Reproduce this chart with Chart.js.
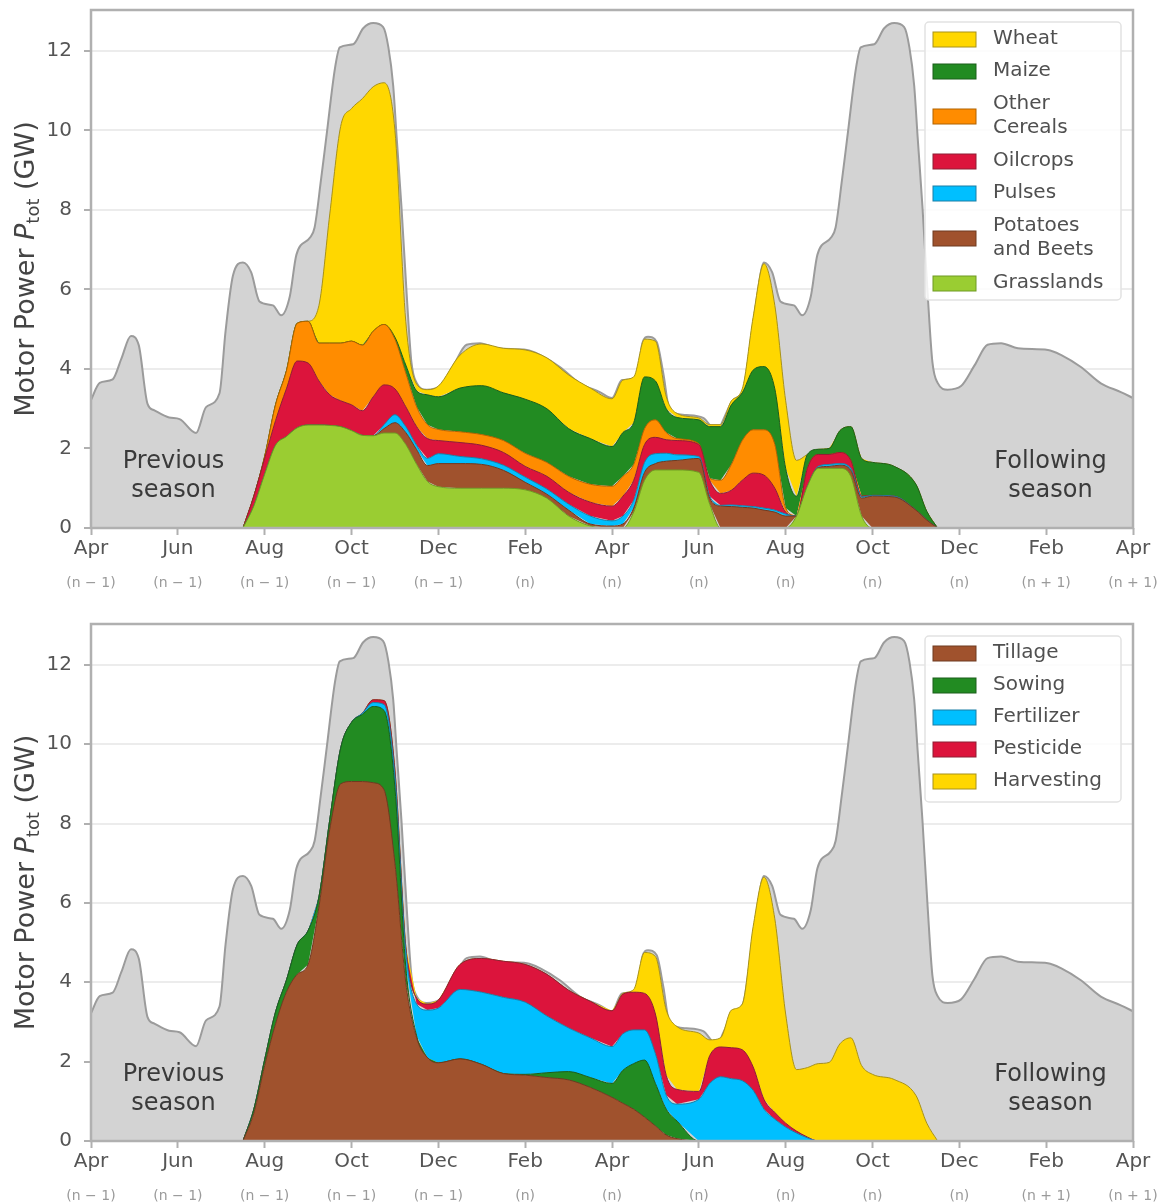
<!DOCTYPE html>
<html>
<head>
<meta charset="utf-8">
<script src="https://cdn.jsdelivr.net/npm/chart.js@4.4.1/dist/chart.umd.min.js"></script>
<style>
  html, body { margin: 0; padding: 0; background: #fff; }
  canvas { display: block; }
</style>
</head>
<body>
<canvas id="cropChart" width="1164" height="601"></canvas>
<canvas id="opChart" width="1164" height="601"></canvas>
<script>
// x axis: months counted from Apr (n-1)
const monthTicks = ['Apr', 'Jun', 'Aug', 'Oct', 'Dec', 'Feb', 'Apr', 'Jun', 'Aug', 'Oct', 'Dec', 'Feb', 'Apr'];
const yearTicks = ['(n \u2212 1)', '(n \u2212 1)', '(n \u2212 1)', '(n \u2212 1)', '(n \u2212 1)',
    '(n)', '(n)', '(n)', '(n)', '(n)', '(n)', '(n + 1)', '(n + 1)'];

// total motor power of all seasons (grey background)
const grayMonths = [0, 0.2, 0.5, 0.7, 0.92, 1.1, 1.3, 1.46, 1.8, 2.04, 2.42, 2.65, 2.96, 3.1, 3.27, 3.5, 3.69, 3.88,
    4.19, 4.38, 4.58, 4.73, 5.04, 5.15, 5.3, 5.42, 5.62, 5.73, 6.04, 6.27, 6.5, 6.73, 6.85, 6.96, 7.04, 7.15, 7.27,
    7.38, 7.5, 7.73, 8.04, 8.35, 8.65, 8.96, 9.35, 10.04, 10.35, 10.8, 11.26, 11.72,
    12.0, 12.23, 12.57, 12.7, 12.83, 13.03, 13.18, 13.33, 13.72, 14.1, 14.42, 14.56, 14.79, 15.02, 15.22, 15.33, 15.5,
    15.69, 15.88, 16.19, 16.38, 16.58, 16.73, 17.04, 17.15, 17.3, 17.42, 17.62, 17.73, 18.04, 18.27, 18.5, 18.73,
    18.85, 18.96, 19.04, 19.15, 19.27, 19.38, 19.5, 19.73, 20.04, 20.35, 20.65, 20.96, 21.35, 22.04, 22.35, 22.8,
    23.26, 23.72, 24];
const grayPower = [3.22, 3.65, 3.74, 4.26, 4.83, 4.6, 3.13, 2.96, 2.78, 2.74, 2.39, 3.04, 3.39, 4.96, 6.35, 6.68, 6.43, 5.7,
    5.6, 5.35, 5.83, 6.87, 7.3, 7.56, 8.78, 9.83, 11.57, 12.09, 12.17, 12.57, 12.7, 12.6, 12.09, 11.13, 9.83, 8.09, 5.9,
    4.17, 3.65, 3.48, 3.57, 4.09, 4.61, 4.65, 4.52, 4.48, 4.35, 4.05, 3.64, 3.42,
    3.27, 3.72, 3.77, 4.65, 4.81, 4.68, 3.9, 2.97, 2.84, 2.77, 2.42, 2.72, 3.22, 3.47, 4.9, 5.74, 6.68,
    6.43, 5.7, 5.6, 5.35, 5.83, 6.87, 7.3, 7.56, 8.78, 9.83, 11.57, 12.09, 12.17, 12.57, 12.7, 12.6,
    12.09, 11.13, 9.83, 8.09, 5.9, 4.17, 3.65, 3.48, 3.57, 4.09, 4.61, 4.65, 4.52, 4.48, 4.35, 4.05,
    3.64, 3.42, 3.27];

// current season sample months
const seasonMonths = [3.5, 3.75, 4, 4.25, 4.5, 4.75, 5, 5.25, 5.5, 5.75, 6, 6.25, 6.5, 6.75, 7, 7.25, 7.5, 7.75, 8,
    8.5, 9, 9.5, 10, 10.5, 11, 11.5, 12, 12.25, 12.5, 12.75, 13, 13.25, 13.5, 14, 14.25, 14.5, 14.75, 15, 15.25,
    15.5, 15.75, 16, 16.25, 16.5, 16.75, 17, 17.25, 17.5, 17.75, 18, 18.5, 19, 19.25, 19.5];

// crops (GW), stacked bottom to top
const grasslands = [0, .55, 1.35, 2.08, 2.3, 2.52, 2.59, 2.59, 2.58, 2.55, 2.45, 2.33, 2.32, 2.39, 2.39, 2.1, 1.6, 1.17, 1.04,
    1.0, 1.0, 1.0, .96, .75, .3, .05, 0, 0, .4, 1.2, 1.46, 1.46, 1.46, 1.4, .6, 0, 0, 0, 0,
    0, 0, 0, .3, 1.05, 1.5, 1.5, 1.5, 1.3, .3, 0, 0, 0, 0, 0];
const potatoes = [0, 0, 0, 0, 0, 0, 0, 0, 0, 0, 0, 0, 0, .11, .26, .3, .37, .4, .58,
    .62, .6, .45, .19, .1, .15, .05, .05, .1, .1, .2, .16, .22, .24, .35, .15, .55, .54, .52, .5,
    .45, .4, .3, 0, 0, .02, .05, .08, .15, .45, .8, .78, .45, .2, 0];
const pulses = [0, 0, 0, 0, 0, 0, 0, 0, 0, 0, 0, 0, 0, .1, .2, .15, .11, .18, .25,
    .18, .14, .13, .13, .13, .15, .2, .13, .2, .2, .25, .25, .2, .14, .05, .05, .02, .04, .04, .04,
    .05, .05, .05, 0, 0, .03, .05, .04, .05, .03, .02, .02, 0, 0, 0];
const oilcrops = [0, .25, .4, .62, 1.2, 1.68, 1.56, 1.11, .77, .65, .65, .62, .98, 1.0, .65, .5, .47, .5, .33,
    .35, .34, .32, .27, .32, .3, .35, .37, .5, .5, .45, .41, .34, .36, .3, .4, .3, .37, .64, .84,
    .83, .55, .05, 0, .45, .3, .25, .28, .2, .02, 0, 0, 0, 0, 0];
const otherCereals = [0, 0, .05, .4, .45, .95, 1.05, .95, 1.3, 1.45, 1.6, 1.65, 1.65, 1.52, 1.25, .85, .5, .35, .28,
    .27, .27, .3, .33, .35, .4, .45, .5, .5, .4, .4, .44, .18, .05, .02, .05, .33, .65, 1.0, 1.09,
    1.14, 1.1, .1, 0, 0, 0, 0, 0, 0, 0, 0, 0, 0, 0, 0];
const maize = [0, 0, 0, 0, 0, 0, 0, 0, 0, 0, 0, 0, 0, 0, .05, .2, .4, .75, .82,
    1.1, 1.23, 1.2, 1.36, 1.35, 1.2, 1.15, 1.0, 1.1, 1.05, 1.3, .98, .6, .53, .6, 1.3, 1.35, 1.5, 1.2, 1.5,
    1.59, 1.4, 1.0, .5, .35, .13, .15, .55, .85, .95, .83, .75, .65, .22, 0];
const wheat = [0, 0, 0, 0, 0, 0, 0, .95, 3.25, 5.45, 5.85, 6.2, 6.15, 6.08, 5.2, 1.1, .17, .13, .27,
    .83, 1.05, 1.12, 1.24, 1.28, 1.35, 1.27, 1.2, 1.32, 1.15, .95, 1.0, .3, .1, .05, .05, .05, .1, .1, 1.33,
    2.59, 2.1, 1.7, .9, 0, 0, 0, 0, 0, 0, 0, 0, 0, 0, 0];

// operations (GW), stacked bottom to top
const tillage = [0, .7, 1.9, 2.95, 3.75, 4.2, 4.45, 5.9, 7.86, 9.0, 9.06, 9.06, 9.03, 8.85, 7.0, 4.0, 2.6, 2.1, 1.97,
    2.07, 1.93, 1.7, 1.66, 1.6, 1.54, 1.35, 1.1, .95, .8, .6, .38, .15, .06, 0, 0, 0, 0, 0, 0,
    0, 0, 0, 0, 0, 0, 0, 0, 0, 0, 0, 0, 0, 0, 0];
const sowing = [0, .1, .15, .3, .3, .75, .85, .25, .24, .9, 1.49, 1.69, 1.92, 2.0, 1.9, .4, .05, 0, 0,
    0, 0, 0, .02, .12, .21, .25, .35, .83, 1.15, 1.44, 1.07, .65, .44, 0, 0, 0, 0, 0, 0,
    0, 0, 0, 0, 0, 0, 0, 0, 0, 0, 0, 0, 0, 0, 0];
const fertilizer = [0, 0, 0, 0, 0, 0, 0, 0, 0, 0, 0, .03, .1, .15, .3, .4, .8, 1.2, 1.38,
    1.75, 1.82, 1.92, 1.82, 1.43, 1.1, 1.0, .93, .92, .85, .76, .75, .35, .43, 1.05, 1.45, 1.62, 1.57, 1.52, 1.28,
    .8, .55, .35, .2, .08, 0, 0, 0, 0, 0, 0, 0, 0, 0, 0];
const pesticide = [0, 0, 0, 0, 0, 0, 0, 0, 0, 0, 0, 0, .07, .1, .15, .1, .15, .15, .2,
    .63, .85, .91, .95, 1.05, .95, .92, .9, 1.0, .95, .92, 1.0, .5, .37, .2, .7, .75, .78, .78, .59,
    .25, .17, .1, .05, .02, 0, 0, 0, 0, 0, 0, 0, 0, 0, 0];
const harvesting = [0, 0, 0, 0, 0, 0, 0, 0, 0, 0, 0, 0, 0, 0, 0, 0, 0, 0, 0,
    0, 0, 0, 0, 0, 0, 0, 0, .02, .07, 1.03, 1.45, 1.65, 1.58, 1.47, .4, .23, .95, 1.15, 3.53,
    5.6, 4.88, 2.75, 1.55, 1.75, 1.95, 1.98, 2.45, 2.6, 1.9, 1.68, 1.55, 1.15, .45, 0];

const FONT = '"DejaVu Sans", sans-serif';

function seasonSet(label, values, fill, edge) {
    return {
        label: label,
        data: seasonMonths.map(function(m, i) { return {x: m, y: values[i]}; }),
        backgroundColor: fill,
        borderColor: edge,
        borderWidth: 1,
        fill: 'stack',
        stack: 'season',
        pointRadius: 0,
        cubicInterpolationMode: 'monotone'
    };
}

function graySet() {
    return {
        label: 'all seasons',
        isBackground: true,
        data: grayMonths.map(function(m, i) { return {x: m, y: grayPower[i]}; }),
        backgroundColor: '#d3d3d3',
        borderColor: '#9b9b9b',
        borderWidth: 2,
        fill: 'origin',
        stack: 'bg',
        pointRadius: 0,
        cubicInterpolationMode: 'monotone'
    };
}

function drawYTitle(ctx, cx, cy) {
    const parts = [
        ['Motor Power ', '27px ' + FONT, 0],
        ['P', 'italic 27px ' + FONT, 0],
        ['tot', '18px ' + FONT, 7],
        [' (GW)', '27px ' + FONT, 0]
    ];
    ctx.save();
    ctx.translate(cx, cy);
    ctx.rotate(-Math.PI / 2);
    let total = 0;
    parts.forEach(function(p) { ctx.font = p[1]; total += ctx.measureText(p[0]).width; });
    let x = -total / 2;
    ctx.fillStyle = '#444';
    ctx.textBaseline = 'middle';
    ctx.textAlign = 'left';
    parts.forEach(function(p) {
        ctx.font = p[1];
        ctx.fillText(p[0], x, p[2]);
        x += ctx.measureText(p[0]).width;
    });
    ctx.restore();
}

// frame, titles, season notes, year sub-labels
const decor = {
    id: 'decor',
    afterDatasetsDraw(chart) {
        const ctx = chart.ctx, xs = chart.scales.x, ys = chart.scales.y;
        ctx.save();
        ctx.fillStyle = '#3a3a3a';
        ctx.font = '24px ' + FONT;
        ctx.textAlign = 'center';
        ctx.textBaseline = 'middle';
        [[1.9, ['Previous', 'season']], [22.1, ['Following', 'season']]].forEach(function(n) {
            ctx.fillText(n[1][0], xs.getPixelForValue(n[0]), ys.getPixelForValue(1.66));
            ctx.fillText(n[1][1], xs.getPixelForValue(n[0]), ys.getPixelForValue(0.93));
        });
        ctx.restore();
    },
    afterDraw(chart) {
        const ctx = chart.ctx, a = chart.chartArea, xs = chart.scales.x;
        ctx.save();
        ctx.strokeStyle = '#b0b0b0';
        ctx.lineWidth = 2.5;
        ctx.strokeRect(a.left, a.top, a.right - a.left, a.bottom - a.top);
        ctx.fillStyle = '#9a9a9a';
        ctx.font = '14px ' + FONT;
        ctx.textAlign = 'center';
        ctx.textBaseline = 'middle';
        yearTicks.forEach(function(t, i) {
            ctx.fillText(t, xs.getPixelForValue(i * 2), a.bottom + chart.options.plugins.decor.subOffset);
        });
        ctx.restore();
        drawYTitle(ctx, 27, (a.top + a.bottom) / 2);
    }
};

const boxLegend = {
    id: 'boxLegend',
    afterDraw(chart, args, o) {
        const ctx = chart.ctx;
        let items = chart.data.datasets.filter(function(d) { return !d.isBackground; });
        if (o.reverse) items = items.slice().reverse();
        ctx.save();
        ctx.fillStyle = 'rgba(255,255,255,0.85)';
        ctx.strokeStyle = '#e2e2e2';
        ctx.lineWidth = 1.5;
        ctx.beginPath();
        ctx.roundRect(o.left, o.top, o.width, o.height, 4);
        ctx.fill();
        ctx.stroke();
        let y = o.top + 1;
        ctx.font = '20px ' + FONT;
        ctx.textBaseline = 'middle';
        ctx.textAlign = 'left';
        items.forEach(function(d) {
            const lines = d.label.split('\n');
            const h = lines.length > 1 ? 58 : 32;
            const cy = y + h / 2;
            ctx.fillStyle = d.backgroundColor;
            ctx.fillRect(o.left + 8, cy - 7, 43, 15);
            ctx.strokeStyle = d.borderColor;
            ctx.lineWidth = 1;
            ctx.strokeRect(o.left + 8, cy - 7, 43, 15);
            ctx.fillStyle = '#505050';
            lines.forEach(function(t, k) {
                ctx.fillText(t, o.left + 68, cy + (k - (lines.length - 1) / 2) * 24);
            });
            y += h;
        });
        ctx.restore();
    }
};

function makeChart(id, datasets, padTop, axisHeight, legendOpts) {
    new Chart(document.getElementById(id), {
        type: 'line',
        data: { datasets: datasets },
        options: {
            responsive: false,
            animation: false,
            devicePixelRatio: 1,
            layout: { padding: { top: padTop, right: 31, left: 0, bottom: 0 } },
            plugins: {
                legend: { display: false },
                tooltip: { enabled: false },
                decor: { subOffset: 55 },
                boxLegend: legendOpts
            },
            scales: {
                x: {
                    type: 'linear',
                    min: 0,
                    max: 24,
                    ticks: {
                        stepSize: 2,
                        autoSkip: false,
                        maxRotation: 0,
                        padding: 2,
                        color: '#555',
                        font: { family: FONT, size: 20 },
                        callback: function(v) { return monthTicks[Math.round(v / 2)]; }
                    },
                    grid: { drawOnChartArea: false, tickLength: 7, tickColor: '#b0b0b0', tickWidth: 2 },
                    border: { display: false },
                    afterFit: function(s) {
                        s.height = axisHeight;
                        s.paddingLeft = 0; s.paddingRight = 0;
                    }
                },
                y: {
                    stacked: true,
                    min: 0,
                    max: 13.03,
                    ticks: {
                        stepSize: 2,
                        includeBounds: false,
                        padding: 12,
                        color: '#555',
                        font: { family: FONT, size: 20 }
                    },
                    grid: { color: '#ececec', lineWidth: 2, tickLength: 7, tickColor: '#b0b0b0', tickWidth: 2 },
                    border: { display: false },
                    afterFit: function(s) {
                        s.width = 91;
                        s.paddingTop = 0; s.paddingBottom = 0;
                    }
                }
            }
        },
        plugins: [decor, boxLegend]
    });
}

// crop breakdown
makeChart('cropChart', [
    seasonSet('Grasslands', grasslands, '#9acd32', '#6f9a22'),
    seasonSet('Potatoes\nand Beets', potatoes, '#a0522d', '#6e3a20'),
    seasonSet('Pulses', pulses, '#00bfff', '#1b7ea6'),
    seasonSet('Oilcrops', oilcrops, '#dc143c', '#8e1e34'),
    seasonSet('Other\nCereals', otherCereals, '#ff8c00', '#b06300'),
    seasonSet('Maize', maize, '#228b22', '#1a5e1a'),
    seasonSet('Wheat', wheat, '#ffd700', '#a8921a'),
    graySet()
], 10, 73, { left: 925, top: 22, width: 196, height: 278, reverse: true });

// operation breakdown
makeChart('opChart', [
    seasonSet('Tillage', tillage, '#a0522d', '#6e3a20'),
    seasonSet('Sowing', sowing, '#228b22', '#1a5e1a'),
    seasonSet('Fertilizer', fertilizer, '#00bfff', '#1b7ea6'),
    seasonSet('Pesticide', pesticide, '#dc143c', '#8e1e34'),
    seasonSet('Harvesting', harvesting, '#ffd700', '#a8921a'),
    graySet()
], 23, 61, { left: 925, top: 35, width: 196, height: 166, reverse: false });
</script>
</body>
</html>
